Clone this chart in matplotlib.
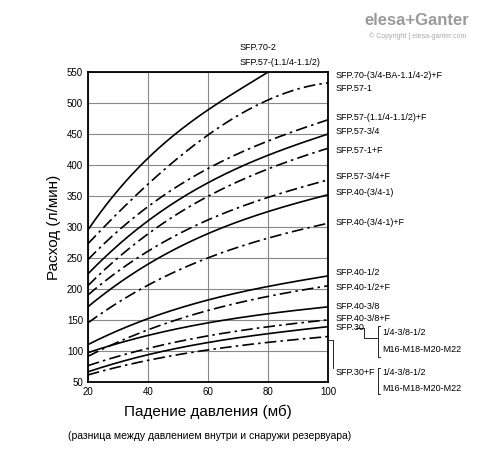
import numpy as np
import matplotlib
matplotlib.use('Agg')
import matplotlib.pyplot as plt

plt.rcParams['font.family'] = ['Liberation Sans', 'DejaVu Sans']

x_pts = [20, 40, 60, 80, 100]
# (values at 20/40/60/80/100, style)
curves = [
    ([295, 411, 489, 550, None], '-'),
    ([274, 364, 456, 500, 534], '-.'),
    ([247, 333, 394, 439, 473], '-.'),
    ([224, 310, 371, 416, 450], '-'),
    ([205, 289, 349, 394, 427], '-.'),
    ([190, 261, 311, 348, 376], '-.'),
    ([171, 240, 289, 325, 352], '-'),
    ([145, 206, 250, 282, 306], '-.'),
    ([110, 152, 182, 204, 221], '-'),
    ([91, 134, 165, 188, 205], '-.'),
    ([97, 125, 145, 160, 171], '-'),
    ([76, 104, 124, 139, 150], '-.'),
    ([66, 94, 113, 128, 139], '-'),
    ([61, 85, 101, 114, 123], '-.'),
]
right_labels = ['SFP.70-(3/4-BA-1.1/4-2)+F', 'SFP.57-1', 'SFP.57-(1.1/4-1.1/2)+F',
                'SFP.57-3/4', 'SFP.57-1+F', 'SFP.57-3/4+F', 'SFP.40-(3/4-1)',
                'SFP.40-(3/4-1)+F', 'SFP.40-1/2', 'SFP.40-1/2+F', 'SFP.40-3/8',
                'SFP.40-3/8+F', 'SFP.30', 'SFP.30+F']
label_y = [545, 523, 477, 455, 424, 381, 355, 308, 226, 203, 171, 153, 137, 65]

fig = plt.figure(figsize=(4.88, 4.54), dpi=100)
ax = fig.add_axes([0.180, 0.159, 0.492, 0.682])

for vals, ls in curves:
    xs = [x for x, v in zip(x_pts, vals) if v is not None]
    vs = [v for v in vals if v is not None]
    c = np.polyfit(xs, vs, 3)
    xx = np.linspace(xs[0], xs[-1], 200)
    ax.plot(xx, np.polyval(c, xx), color='black', lw=1.2, ls=ls,
            dashes=(7, 2.5, 1.5, 2.5) if ls == '-.' else (None, None))

ax.set_xlim(20, 100)
ax.set_ylim(50, 550)
ax.set_xticks(range(20, 101, 20))
ax.set_yticks(range(50, 551, 50))
ax.grid(True, color='#888888', lw=0.8)
ax.tick_params(length=0, labelsize=7)
for s in ax.spines.values():
    s.set_linewidth(1.3)

for lab, y in zip(right_labels, label_y):
    ax.text(102.5, y, lab, fontsize=6.5, va='center', clip_on=False)

# brackets for SFP.30
ax.text(118, 129, '1/4-3/8-1/2', fontsize=6.5, va='center')
ax.text(118, 102, 'M16-M18-M20-M22', fontsize=6.5, va='center')
ax.text(118, 65, '1/4-3/8-1/2', fontsize=6.5, va='center')
ax.text(118, 40, 'M16-M18-M20-M22', fontsize=6.5, va='center', clip_on=False)
kw = dict(color='black', lw=0.6, clip_on=False)
ax.plot([109.3, 112, 112, 116.5], [137, 137, 121, 121], **kw)
ax.plot([117.3, 116.7, 116.7, 117.3], [140, 140, 90, 90], **kw)
ax.plot([117.3, 116.7, 116.7, 117.3], [73, 73, 30, 30], **kw)
ax.plot([100.5, 101.8, 101.8], [118, 118, 72], **kw)

ax.text(70.7, 590, 'SFP.70-2', fontsize=6.5, va='center', clip_on=False)
ax.text(70.7, 566, 'SFP.57-(1.1/4-1.1/2)', fontsize=6.5, va='center', clip_on=False)

ax.set_ylabel('Расход (л/мин)', fontsize=11)
fig.text(0.426, 0.093, 'Падение давления (мб)', fontsize=11, ha='center', va='center')
fig.text(0.43, 0.040, '(разница между давлением внутри и снаружи резервуара)',
         fontsize=7.5, ha='center', va='center')

fig.text(0.855, 0.955, 'elesa+Ganter', fontsize=12, ha='center', va='center',
         color='#9a9a9a', weight='bold')
fig.text(0.855, 0.920, '© Copyright | elesa-ganter.com', fontsize=5,
         ha='center', va='center', color='#aaaaaa')

fig.savefig('out.png', dpi=100)
